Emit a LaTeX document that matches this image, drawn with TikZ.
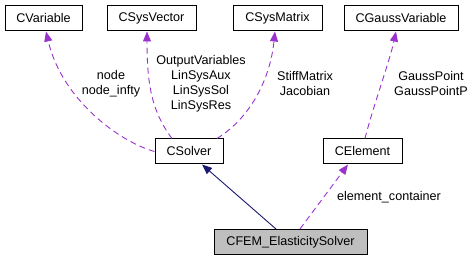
\documentclass[tikz,border=0pt]{standalone}
\usepackage{fontspec}
\setmainfont{Liberation Sans}
\usetikzlibrary{arrows.meta}

\definecolor{usecol}{HTML}{9A32CD}
\definecolor{inhcol}{HTML}{191970}

\begin{document}
\begin{tikzpicture}[x=1pt,y=-1pt,>={Triangle[length=10pt,width=8pt]},line width=0.9pt,
    font=\fontsize{12.6}{15}\selectfont,
    cls/.style={draw=black,line width=1pt,inner sep=0pt,minimum height=25pt},
    use/.style={->,draw=usecol,dash pattern=on 6pt off 4pt},
    inh/.style={->,draw=inhcol}]
  \useasboundingbox (0,0) rectangle (472,261);

  % classes
  \node[cls,minimum width=77pt]  (cvar)   at (43.5,18.5)  {CVariable};
  \node[cls,minimum width=89pt]  (cvec)   at (151.5,18.5) {CSysVector};
  \node[cls,minimum width=89pt]  (cmat)   at (277.5,18.5) {CSysMatrix};
  \node[cls,minimum width=114pt] (cgauss) at (401,18.5)   {CGaussVariable};
  \node[cls,minimum width=68pt]  (solver) at (189,151.5)  {CSolver};
  \node[cls,minimum width=79pt]  (elem)   at (362.5,151.5) {CElement};
  \node[cls,minimum width=153pt,fill=black!25] (fem) at (290.5,242) {CFEM\_ElasticitySolver};

  % member usage
  \draw[use] (solver.west) .. controls (120,142) and (62,100) .. ([xshift=2.5pt]cvar.south);
  \draw[use] ([xshift=-17pt]solver.north) .. controls (152,112) and (147,85) .. ([xshift=-4.5pt]cvec.south);
  \draw[use] ([xshift=28pt]solver.north) .. controls (250,118) and (270,80) .. ([xshift=-2.5pt]cmat.south);
  \draw[use] ([xshift=2.5pt]elem.north) .. controls (372,110) and (390,60) .. ([xshift=-5pt]cgauss.south);
  \draw[use] ([xshift=9.5pt]fem.north) -- ([xshift=-14.5pt]elem.south);

  % inheritance
  \draw[inh] ([xshift=-14.5pt]fem.north) -- ([xshift=13pt]solver.south);

  % member names
  \node[align=center] (lvar)   at (111,84)  {node\\node\_infty};
  \node[align=center] (lvec)   at (201,84)  {OutputVariables\\LinSysAux\\LinSysSol\\LinSysRes};
  \node[align=center] (lmat)   at (305,84)  {StiffMatrix\\Jacobian};
  \node[align=center] (lgauss) at (431,84)  {GaussPoint\\GaussPointP};
  \node (lelem) at (389,197) {element\_container};
\end{tikzpicture}
\end{document}
